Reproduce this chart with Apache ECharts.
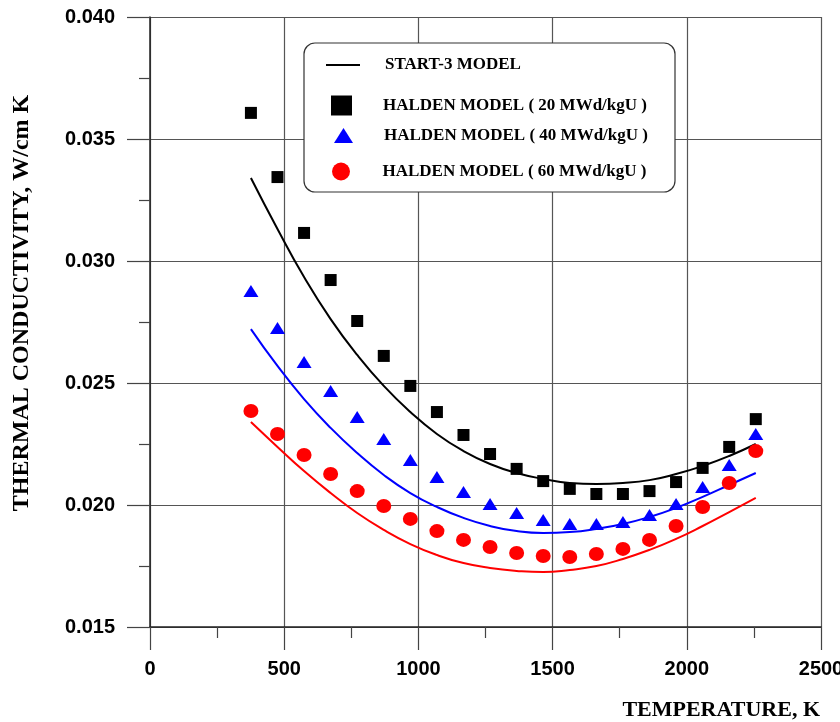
<!DOCTYPE html>
<html>
<head>
<meta charset="utf-8">
<script src="https://cdn.jsdelivr.net/npm/echarts@6/dist/echarts.min.js"></script>
<style>
html,body{margin:0;padding:0;background:#fff;overflow:hidden;}
#chart{width:840px;height:722px;}
</style>
</head>
<body>
<div id="chart"></div>
<script>
// ---- data ----
var temperature = [376, 475, 574, 673, 772, 871, 970, 1069, 1168, 1267, 1366, 1465, 1564, 1663, 1762, 1861, 1960, 2059, 2158, 2257];
var start3Model = [0.03340, 0.03131, 0.02934, 0.02762, 0.02615, 0.02488, 0.02381, 0.02291, 0.02221, 0.02168, 0.02131, 0.02107, 0.02090, 0.02086, 0.02090, 0.02102, 0.02127, 0.02160, 0.02201, 0.02250];
var start3Model40 = [0.02721, 0.02570, 0.02434, 0.02316, 0.02213, 0.02123, 0.02049, 0.01992, 0.01947, 0.01914, 0.01893, 0.01885, 0.01889, 0.01902, 0.01922, 0.01951, 0.01988, 0.02033, 0.02082, 0.02131];
var start3Model60 = [0.02340, 0.02238, 0.02139, 0.02049, 0.01967, 0.01898, 0.01840, 0.01795, 0.01762, 0.01742, 0.01730, 0.01725, 0.01734, 0.01750, 0.01779, 0.01816, 0.01861, 0.01914, 0.01971, 0.02029];
var halden20 = [0.03607, 0.03344, 0.03115, 0.02922, 0.02754, 0.02611, 0.02488, 0.02381, 0.02287, 0.02209, 0.02148, 0.02098, 0.02066, 0.02045, 0.02045, 0.02057, 0.02094, 0.02152, 0.02238, 0.02352];
var halden40 = [0.02877, 0.02725, 0.02586, 0.02467, 0.02361, 0.02270, 0.02184, 0.02115, 0.02053, 0.02004, 0.01967, 0.01939, 0.01922, 0.01922, 0.01930, 0.01959, 0.02004, 0.02074, 0.02164, 0.02291];
var halden60 = [0.02385, 0.02291, 0.02205, 0.02127, 0.02057, 0.01996, 0.01943, 0.01893, 0.01857, 0.01828, 0.01803, 0.01791, 0.01787, 0.01799, 0.01820, 0.01857, 0.01914, 0.01992, 0.02090, 0.02221];
var xTicks = [0, 500, 1000, 1500, 2000, 2500];
var yTicks = [0.015, 0.020, 0.025, 0.030, 0.035, 0.040];
var seriesNames = ['START-3 MODEL', 'HALDEN MODEL ( 20 MWd/kgU )', 'HALDEN MODEL ( 40 MWd/kgU )', 'HALDEN MODEL ( 60 MWd/kgU )'];
var xTitle = 'TEMPERATURE, K';
var yTitle = 'THERMAL CONDUCTIVITY, W/cm K';

function pairs(xs, ys){ return xs.map(function(x,i){ return [x, ys[i]]; }); }

var serif = "'Liberation Serif', 'Times New Roman', serif";
var sans = "'Liberation Sans', Arial, sans-serif";
var legendText = {fontFamily: serif, fontWeight: 'bold', fontSize: 17, color: '#000', lineHeight: 20};

function mkLegend(name, left, top, w, h, pad, icon){
  var item = {name: name};
  if (icon) item.icon = icon;
  return {
    data: [item], left: left, top: top, orient: 'vertical', padding: 0,
    itemWidth: w, itemHeight: h, selectedMode: false, symbolKeepAspect: false,
    z: 6,
    textStyle: Object.assign({}, legendText, {padding: pad})
  };
}

var chart = echarts.init(document.getElementById('chart'), null, {renderer: 'canvas', width: 840, height: 722});
chart.setOption({
  animation: false,
  backgroundColor: '#fff',
  grid: {left: 150, top: 17, width: 671, height: 610, containLabel: false, outerBoundsMode: 'none'},
  xAxis: {
    type: 'value', min: xTicks[0], max: xTicks[xTicks.length-1], interval: 500,
    axisLine: {show: true, onZero: false, lineStyle: {color: '#222', width: 1.5}},
    axisTick: {show: true, inside: false, length: 23, lineStyle: {color: '#444', width: 1.2}},
    minorTick: {show: true, splitNumber: 2, length: 11, lineStyle: {color: '#444', width: 1.2}},
    splitLine: {show: true, lineStyle: {color: '#555', width: 1.2}},
    axisLabel: {margin: 32, fontFamily: sans, fontWeight: 'bold', fontSize: 20, color: '#000',
      formatter: function(v){ return String(v); }}
  },
  yAxis: {
    type: 'value', min: yTicks[0], max: yTicks[yTicks.length-1], interval: 0.005,
    axisLine: {show: true, onZero: false, lineStyle: {color: '#222', width: 1.5}},
    axisTick: {show: true, inside: false, length: 23, lineStyle: {color: '#444', width: 1.2}},
    minorTick: {show: true, splitNumber: 2, length: 11, lineStyle: {color: '#444', width: 1.2}},
    splitLine: {show: true, lineStyle: {color: '#555', width: 1.2}},
    axisLabel: {margin: 35, fontFamily: sans, fontWeight: 'bold', fontSize: 20, color: '#000',
      formatter: function(v){ return v.toFixed(3); }}
  },
  legend: [
    mkLegend(seriesNames[0], 326, 55, 34, 2, [0, 0, 0, 20], 'rect'),
    mkLegend(seriesNames[1], 331, 94, 21, 20, [3, 0, 0, 26]),
    mkLegend(seriesNames[2], 334, 124, 19, 15, [3, 0, 0, 26]),
    mkLegend(seriesNames[3], 332, 160, 21, 18, [3, 0, 0, 26])
  ],
  graphic: [
    {type: 'rect', z: 5, shape: {x: 304, y: 43, width: 371, height: 149, r: 11},
      style: {fill: '#fff', stroke: '#333', lineWidth: 1.2}},
    {type: 'text', z: 5, x: 22, y: 303, rotation: Math.PI/2,
      style: {text: yTitle, fontFamily: serif, fontWeight: 'bold', fontSize: 24, fill: '#000', align: 'center', verticalAlign: 'middle'}},
    {type: 'text', z: 5, x: 820, y: 710,
      style: {text: xTitle, fontFamily: serif, fontWeight: 'bold', fontSize: 22, fill: '#000', align: 'right', verticalAlign: 'middle'}}
  ],
  series: [
    {name: seriesNames[0], type: 'line', data: pairs(temperature, start3Model), smooth: true, showSymbol: false, symbol: 'none',
      lineStyle: {color: '#000', width: 2}, itemStyle: {color: '#000'}, z: 2},
    {name: 'START-3 MODEL 40', type: 'line', data: pairs(temperature, start3Model40), smooth: true, showSymbol: false, symbol: 'none',
      lineStyle: {color: '#0000ff', width: 2}, itemStyle: {color: '#0000ff'}, z: 2},
    {name: 'START-3 MODEL 60', type: 'line', data: pairs(temperature, start3Model60), smooth: true, showSymbol: false, symbol: 'none',
      lineStyle: {color: '#ff0000', width: 2}, itemStyle: {color: '#ff0000'}, z: 2},
    {name: seriesNames[1], type: 'scatter', data: pairs(temperature, halden20), symbol: 'rect', symbolSize: 12,
      itemStyle: {color: '#000', opacity: 1}, z: 3},
    {name: seriesNames[2], type: 'scatter', data: pairs(temperature, halden40), symbol: 'triangle', symbolSize: [15, 12],
      itemStyle: {color: '#0000ff', opacity: 1}, z: 3},
    {name: seriesNames[3], type: 'scatter', data: pairs(temperature, halden60), symbol: 'circle', symbolSize: [15, 14],
      itemStyle: {color: '#ff0000', opacity: 1}, z: 3}
  ]
});
</script>
</body>
</html>
